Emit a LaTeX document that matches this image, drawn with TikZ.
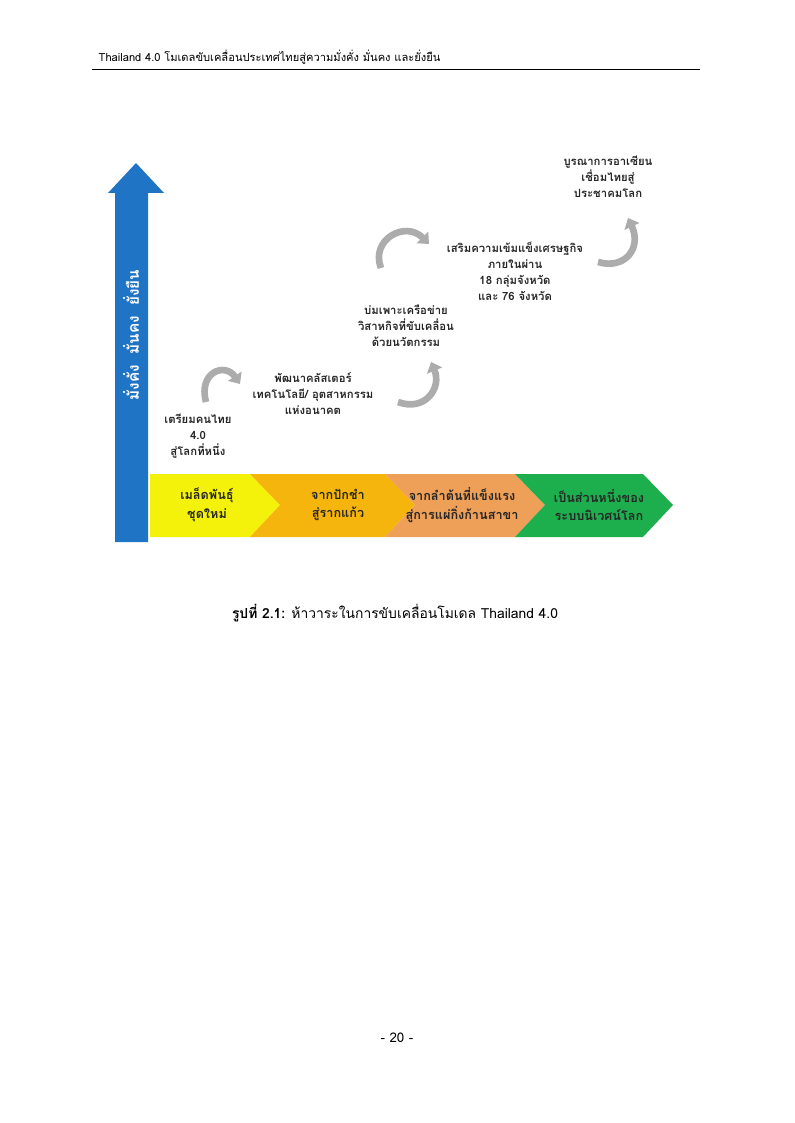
\documentclass[tikz,border=0pt]{standalone}
\usepackage{fontspec}
\setmainfont[Script=Thai]{Loma}
\usetikzlibrary{arrows.meta, positioning}
\definecolor{upblue}{HTML}{1F74C6}
\definecolor{seedyellow}{HTML}{F4F20A}
\definecolor{cutgold}{HTML}{F6B50C}
\definecolor{trunkorange}{HTML}{EE9F58}
\definecolor{worldgreen}{HTML}{1DAF4E}

\begin{document}
\begin{tikzpicture}[x=0.75pt, y=-0.75pt,
  lbl/.style={align=center, font=\bfseries\fontsize{8.5}{12}\selectfont, text=black!85},
  bandtxt/.style={align=center, font=\bfseries\fontsize{9.5}{14}\selectfont, text=black!85},
  turn/.style={draw=gray!65, line width=5pt, -{Triangle[width=12pt,length=7pt]}}]
\useasboundingbox (0,0) rectangle (794,1123);
\node[anchor=base west, font=\fontsize{8.35}{11}\selectfont] (head) at (94,62) {Thailand 4.0 โมเดลขับเคลื่อนประเทศไทยสู่ความมั่งคั่ง มั่นคง และยั่งยืน};
\draw[line width=0.6pt] (92,69) -- (700,69);

% axis arrow
\fill[upblue] (115,542) -- (115,193) -- (108,193) -- (136,163) -- (164,193) -- (148,193) -- (148,542) -- cycle;
\node[rotate=90, text=white, font=\bfseries\fontsize{11.5}{13}\selectfont] (goal) at (131,335) {มั่งคั่ง\ \ มั่นคง\ \ ยั่งยืน};

% band
\fill[seedyellow] (150,474) -- (250,474) -- (280,505) -- (250,537) -- (150,537) -- cycle;
\fill[cutgold] (250,474) -- (385,474) -- (415,505) -- (385,537) -- (250,537) -- (280,505) -- cycle;
\fill[trunkorange] (385,474) -- (515,474) -- (545,505) -- (515,537) -- (385,537) -- (415,505) -- cycle;
\fill[worldgreen] (515,474) -- (643,474) -- (673,505) -- (643,537) -- (515,537) -- (545,505) -- cycle;
\node[bandtxt] (seed) at (207,505) {เมล็ดพันธุ์\\ชุดใหม่};
\node[bandtxt] (cut) at (338,505) {จากปักชำ\\สู่รากแก้ว};
\node[bandtxt] (trunk) at (462,505) {จากลำต้นที่แข็งแรง\\สู่การแผ่กิ่งก้านสาขา};
\node[bandtxt] (world) at (599,505) {เป็นส่วนหนึ่งของ\\ระบบนิเวศน์โลก};

% steps
\node[lbl] (s1) at (198,436) {เตรียมคนไทย\\4.0\\สู่โลกที่หนึ่ง};
\node[lbl] (s2) at (313,394) {พัฒนาคลัสเตอร์\\เทคโนโลยี/ อุตสาหกรรม\\แห่งอนาคต};
\node[lbl] (s3) at (406,326) {บ่มเพาะเครือข่าย\\วิสาหกิจที่ขับเคลื่อน\\ด้วยนวัตกรรม};
\node[lbl] (s4) at (515,271) {เสริมความเข้มแข็งเศรษฐกิจ\\ภายในผ่าน\\18 กลุ่มจังหวัด\\และ 76 จังหวัด};
\node[lbl] (s5) at (608,177) {บูรณาการอาเซียน\\เชื่อมไทยสู่\\ประชาคมโลก};

\draw[turn] (206,402) .. controls (198,372) and (225,362) .. (240,384);
\draw[turn] (398,402) .. controls (425,412) and (442,388) .. (431,362);
\draw[turn] (381,268) .. controls (370,240) and (405,220) .. (429,244);
\draw[turn] (598,262) .. controls (625,270) and (642,248) .. (628,218);

\node[font=\fontsize{10.4}{13}\selectfont] (cap) at (395,613) {\textbf{รูปที่ 2.1:} ห้าวาระในการขับเคลื่อนโมเดล Thailand 4.0};
\node[font=\fontsize{10}{12}\selectfont] (page) at (397,1038) {- 20 -};
\end{tikzpicture}
\end{document}
